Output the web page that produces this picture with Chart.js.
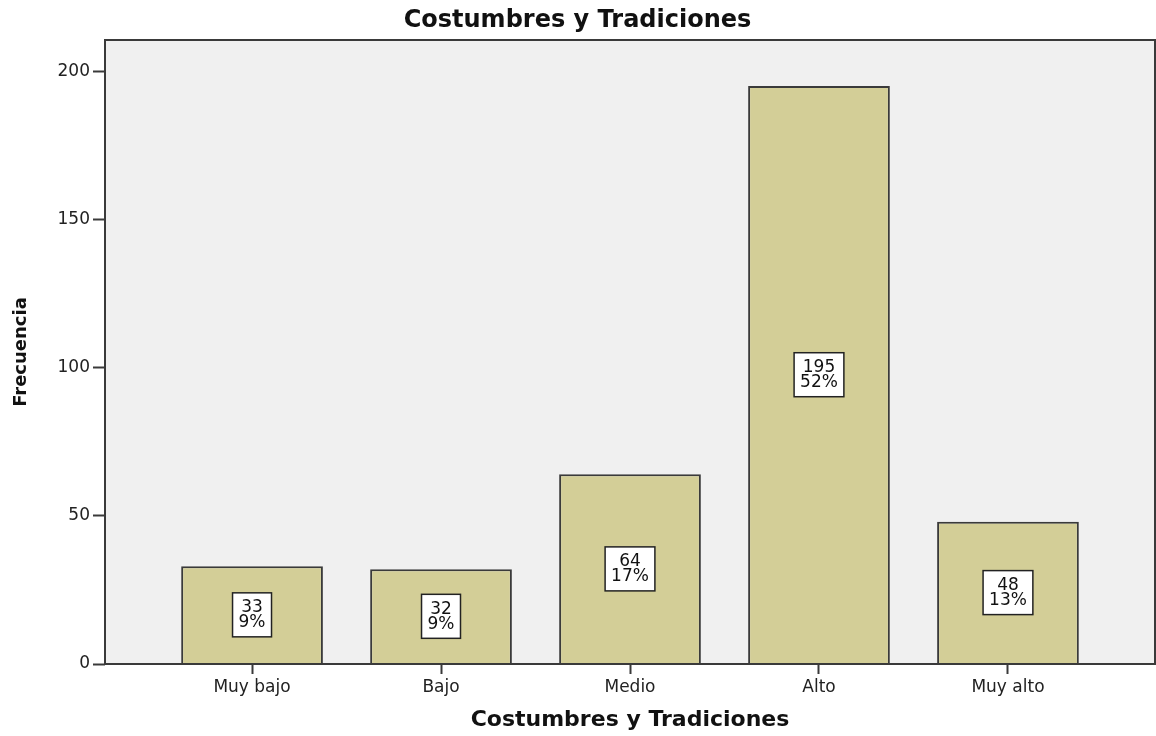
<!DOCTYPE html>
<html>
<head>
<meta charset="utf-8">
<script src="https://cdn.jsdelivr.net/npm/chart.js@4.4.1/dist/chart.umd.min.js"></script>
<style>
  html, body { margin: 0; padding: 0; background: #fff; }
  #wrap { width: 1156px; height: 736px; }
</style>
</head>
<body>
<div id="wrap"><canvas id="chart" width="1156" height="736"></canvas></div>
<script>
const categories = ["Muy bajo", "Bajo", "Medio", "Alto", "Muy alto"];
const frequencies = [33, 32, 64, 195, 48];
const percentLabels = ["9%", "9%", "17%", "52%", "13%"];
const yTicks = [0, 50, 100, 150, 200];

const FONT = "'DejaVu Sans', sans-serif";
const EDGE = "#3a3a3a";

// gray plot background + frame, and the little white boxes with value / percent
const plotFrame = {
    id: "plotFrame",
    beforeDraw(chart) {
        const { ctx, chartArea: a } = chart;
        ctx.save();
        ctx.fillStyle = "#F0F0F0";
        ctx.fillRect(a.left, a.top, a.right - a.left, a.bottom - a.top);
        ctx.restore();
    },
    afterDatasetsDraw(chart) {
        const { ctx, chartArea: a } = chart;
        ctx.save();
        ctx.strokeStyle = EDGE;
        ctx.lineWidth = 2;
        ctx.strokeRect(a.left, a.top, a.right - a.left, a.bottom - a.top);

        const meta = chart.getDatasetMeta(0);
        ctx.font = "17px " + FONT;
        ctx.textAlign = "center";
        ctx.textBaseline = "middle";
        meta.data.forEach((bar, i) => {
            const lines = [String(frequencies[i]), percentLabels[i]];
            const w = Math.max(...lines.map(t => ctx.measureText(t).width)) + 12;
            const h = 44;
            const cx = bar.x;
            const cy = (bar.y + bar.base) / 2;
            ctx.fillStyle = "#fff";
            ctx.fillRect(cx - w / 2, cy - h / 2, w, h);
            ctx.strokeStyle = "#222";
            ctx.lineWidth = 1.5;
            ctx.strokeRect(cx - w / 2, cy - h / 2, w, h);
            ctx.fillStyle = "#111";
            ctx.fillText(lines[0], cx, cy - 7);
            ctx.fillText(lines[1], cx, cy + 8);
        });
        ctx.restore();
    }
};

new Chart(document.getElementById("chart"), {
    type: "bar",
    data: {
        datasets: [{
            data: frequencies.map((v, i) => ({ x: i, y: v })),
            backgroundColor: "#D3CE97",
            borderColor: EDGE,
            borderWidth: 2,
            barPercentage: 0.75,
            categoryPercentage: 1
        }]
    },
    options: {
        responsive: false,
        animation: false,
        layout: { padding: { left: 0, right: 1, top: 0, bottom: 0 } },
        plugins: {
            legend: { display: false },
            tooltip: { enabled: false },
            title: {
                display: true,
                text: "Costumbres y Tradiciones",
                color: "#111",
                font: { family: FONT, size: 24, weight: "bold", lineHeight: 1.2 },
                padding: { top: 6, bottom: 5.2 }
            }
        },
        scales: {
            x: {
                type: "linear",
                offset: false,
                min: -0.778,
                max: 4.778,
                afterBuildTicks: scale => { scale.ticks = categories.map((c, i) => ({ value: i })); },
                afterFit: scale => { scale.height = 72; },
                grid: { display: true, offset: false, drawOnChartArea: false, drawTicks: true, tickLength: 10, tickColor: EDGE, tickWidth: 2 },
                border: { display: false },
                ticks: {
                    autoSkip: false,
                    maxRotation: 0,
                    padding: 3,
                    color: "#222",
                    font: { family: FONT, size: 17 },
                    callback: v => categories[v]
                },
                title: {
                    display: true,
                    text: "Costumbres y Tradiciones",
                    color: "#111",
                    font: { family: FONT, size: 22, weight: "bold", lineHeight: 1.2 },
                    padding: { top: 0, bottom: 3 }
                }
            },
            y: {
                min: 0,
                max: 210.5,
                afterBuildTicks: scale => { scale.ticks = yTicks.map(v => ({ value: v })); },
                afterFit: scale => { scale.width = 105; },
                grid: { display: true, drawOnChartArea: false, drawTicks: true, tickLength: 12, tickColor: EDGE, tickWidth: 2 },
                border: { display: false },
                ticks: {
                    padding: 3,
                    color: "#222",
                    font: { family: FONT, size: 17 }
                },
                title: {
                    display: true,
                    text: "Frecuencia",
                    color: "#111",
                    font: { family: FONT, size: 18, weight: "bold", lineHeight: 1.2 },
                    padding: { top: 11, bottom: 0 }
                }
            }
        }
    },
    plugins: [plotFrame]
});
</script>
</body>
</html>
